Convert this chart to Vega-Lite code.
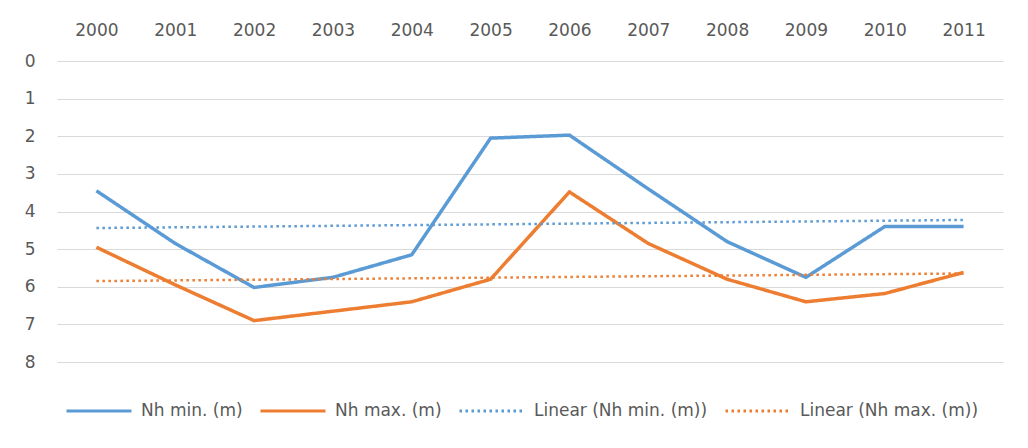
{
  "$schema": "https://vega.github.io/schema/vega-lite/v6.json",
  "autosize": {"type": "none"},
  "width": 946,
  "height": 301,
  "padding": {"left": 57, "top": 61, "right": 25, "bottom": 86},
  "background": "white",
  "config": {
    "view": {"stroke": null},
    "font": "DejaVu Sans",
    "axis": {"labelColor": "#595959", "labelFont": "DejaVu Sans", "labelFontSize": 17, "domain": false, "ticks": false}
  },
  "data": {
    "values": [
      {"year": 2000, "series": "Nh min. (m)", "trend": "Linear (Nh min. (m))", "value": 3.45},
      {"year": 2001, "series": "Nh min. (m)", "trend": "Linear (Nh min. (m))", "value": 4.85},
      {"year": 2002, "series": "Nh min. (m)", "trend": "Linear (Nh min. (m))", "value": 6.02},
      {"year": 2003, "series": "Nh min. (m)", "trend": "Linear (Nh min. (m))", "value": 5.75},
      {"year": 2004, "series": "Nh min. (m)", "trend": "Linear (Nh min. (m))", "value": 5.15},
      {"year": 2005, "series": "Nh min. (m)", "trend": "Linear (Nh min. (m))", "value": 2.05},
      {"year": 2006, "series": "Nh min. (m)", "trend": "Linear (Nh min. (m))", "value": 1.97},
      {"year": 2007, "series": "Nh min. (m)", "trend": "Linear (Nh min. (m))", "value": 3.4},
      {"year": 2008, "series": "Nh min. (m)", "trend": "Linear (Nh min. (m))", "value": 4.8},
      {"year": 2009, "series": "Nh min. (m)", "trend": "Linear (Nh min. (m))", "value": 5.75},
      {"year": 2010, "series": "Nh min. (m)", "trend": "Linear (Nh min. (m))", "value": 4.4},
      {"year": 2011, "series": "Nh min. (m)", "trend": "Linear (Nh min. (m))", "value": 4.4},
      {"year": 2000, "series": "Nh max. (m)", "trend": "Linear (Nh max. (m))", "value": 4.95},
      {"year": 2001, "series": "Nh max. (m)", "trend": "Linear (Nh max. (m))", "value": 5.95},
      {"year": 2002, "series": "Nh max. (m)", "trend": "Linear (Nh max. (m))", "value": 6.9},
      {"year": 2003, "series": "Nh max. (m)", "trend": "Linear (Nh max. (m))", "value": 6.65},
      {"year": 2004, "series": "Nh max. (m)", "trend": "Linear (Nh max. (m))", "value": 6.4},
      {"year": 2005, "series": "Nh max. (m)", "trend": "Linear (Nh max. (m))", "value": 5.8},
      {"year": 2006, "series": "Nh max. (m)", "trend": "Linear (Nh max. (m))", "value": 3.48},
      {"year": 2007, "series": "Nh max. (m)", "trend": "Linear (Nh max. (m))", "value": 4.85},
      {"year": 2008, "series": "Nh max. (m)", "trend": "Linear (Nh max. (m))", "value": 5.8},
      {"year": 2009, "series": "Nh max. (m)", "trend": "Linear (Nh max. (m))", "value": 6.4},
      {"year": 2010, "series": "Nh max. (m)", "trend": "Linear (Nh max. (m))", "value": 6.18},
      {"year": 2011, "series": "Nh max. (m)", "trend": "Linear (Nh max. (m))", "value": 5.62}
    ]
  },
  "encoding": {
    "x": {
      "field": "year", "type": "quantitative",
      "scale": {"domain": [1999.5, 2011.5], "nice": false, "zero": false},
      "axis": {"orient": "top", "title": null, "values": [2000, 2001, 2002, 2003, 2004, 2005, 2006, 2007, 2008, 2009, 2010, 2011], "format": "d", "grid": false, "labelPadding": 22}
    },
    "y": {
      "field": "value", "type": "quantitative",
      "scale": {"domain": [0, 8], "reverse": true, "nice": false},
      "axis": {"title": null, "values": [0, 1, 2, 3, 4, 5, 6, 7, 8], "grid": true, "gridColor": "#d9d9d9", "gridWidth": 1, "labelPadding": 22}
    }
  },
  "layer": [
    {
      "mark": {"type": "line", "strokeWidth": 3.5, "strokeJoin": "miter"},
      "encoding": {
        "color": {
          "field": "series", "type": "nominal",
          "scale": {"domain": ["Nh min. (m)", "Nh max. (m)", "Linear (Nh min. (m))", "Linear (Nh max. (m))"], "range": ["#5B9BD5", "#ED7D31", "#5B9BD5", "#ED7D31"]},
          "legend": {"title": null, "orient": "none", "legendX": 8, "legendY": 316, "direction": "horizontal", "symbolType": "stroke", "symbolSize": 4225, "symbolStrokeWidth": 3, "labelFontSize": 17, "labelLimit": 400, "labelColor": "#595959", "labelFont": "DejaVu Sans", "labelOffset": 8, "columnPadding": 11}
        },
        "strokeDash": {
          "field": "series", "type": "nominal",
          "scale": {"domain": ["Nh min. (m)", "Nh max. (m)", "Linear (Nh min. (m))", "Linear (Nh max. (m))"], "range": [[1, 0], [1, 0], [2.5, 3.5], [2.5, 3.5]]},
          "legend": {"title": null, "orient": "none", "legendX": 8, "legendY": 316, "direction": "horizontal", "symbolType": "stroke", "symbolSize": 4225, "symbolStrokeWidth": 3, "labelFontSize": 17, "labelLimit": 400, "labelColor": "#595959", "labelFont": "DejaVu Sans", "labelOffset": 8, "columnPadding": 11}
        }
      }
    },
    {
      "transform": [{"regression": "value", "on": "year", "groupby": ["trend"]}],
      "mark": {"type": "line", "strokeWidth": 2.5},
      "encoding": {
        "color": {"field": "trend", "type": "nominal"},
        "strokeDash": {"field": "trend", "type": "nominal"}
      }
    }
  ]
}
